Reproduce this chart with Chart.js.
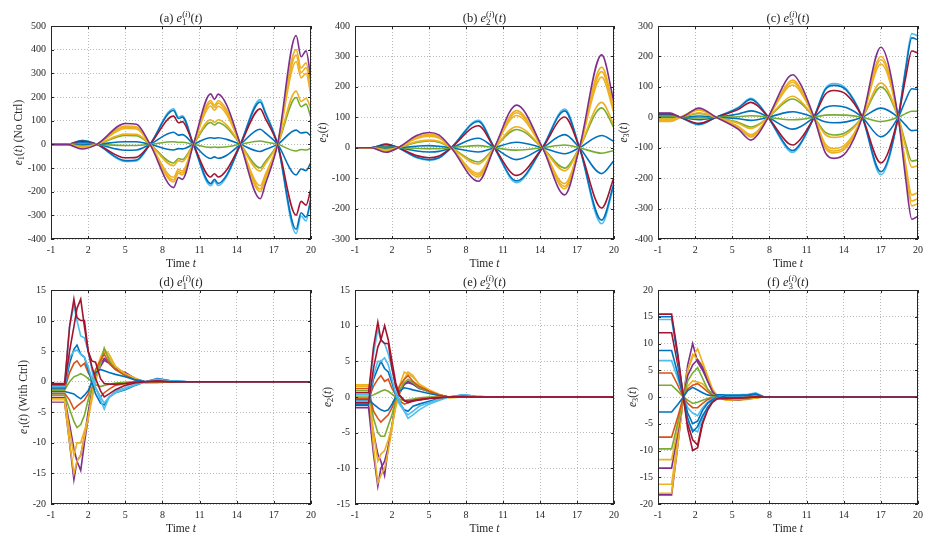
<!DOCTYPE html>
<html>
<head>
<meta charset="utf-8">
<script src="https://cdn.jsdelivr.net/npm/chart.js@4.4.1/dist/chart.umd.min.js"></script>
<style>
  html, body { margin: 0; padding: 0; background: #fff; }
  #wrap { position: relative; width: 941px; height: 547px; }
  #wrap canvas { position: absolute; left: 0; top: 0; }
</style>
</head>
<body>
<div id="wrap">
  <canvas id="pa" width="941" height="547"></canvas>
  <canvas id="pb" width="941" height="547"></canvas>
  <canvas id="pc" width="941" height="547"></canvas>
  <canvas id="pd" width="941" height="547"></canvas>
  <canvas id="pe" width="941" height="547"></canvas>
  <canvas id="pf" width="941" height="547"></canvas>
</div>
<script>
// MATLAB default line colours
const BLUE = '#0072BD', ORANGE = '#D95319', YELLOW = '#EDB120', PURPLE = '#7E2F8E',
      GREEN = '#77AC30', LBLUE = '#4DBEEE', RED = '#A2142F';

const xTicks = [-1, 2, 5, 8, 11, 14, 17, 20];
const yTicksA = [-400, -300, -200, -100, 0, 100, 200, 300, 400, 500];
const yTicksB = [-300, -200, -100, 0, 100, 200, 300, 400];
const yTicksC = [-400, -300, -200, -100, 0, 100, 200, 300];
const yTicksD = [-20, -15, -10, -5, 0, 5, 10, 15];
const yTicksE = [-15, -10, -5, 0, 5, 10, 15];
const yTicksF = [-20, -15, -10, -5, 0, 5, 10, 15, 20];

const colorsTop = [PURPLE, YELLOW, YELLOW, YELLOW, YELLOW, GREEN, BLUE, GREEN, BLUE, RED, BLUE, LBLUE];
const colorsBottom = [RED, RED, LBLUE, LBLUE, BLUE, ORANGE, GREEN, BLUE, ORANGE, GREEN, YELLOW, YELLOW, PURPLE, PURPLE];
const colorsF = [RED, BLUE, LBLUE, RED, BLUE, LBLUE, ORANGE, GREEN, BLUE, ORANGE, GREEN, YELLOW, PURPLE, YELLOW, YELLOW, PURPLE];

// (a) e1, no control
const timeA = [-1, 0.3, 1.5, 2.7, 5, 5.9, 7, 8.9, 9.3, 9.6, 10.5, 11.9, 12.2, 12.5, 13.2, 14.3, 15.9, 16.3, 17.3, 18.8, 19.2, 19.6, 20];
const valuesA = [
  [0, 0, -20, 0, 88, 85, 0, -183, -140, -148, 0, 213, 190, 212, 165, 0, -230, -170, 0, 460, 370, 395, 270],
  [0, 0, -17, 0, 77, 74, 0, -159, -122, -129, 0, 185, 165, 184, 144, 0, -200, -148, 0, 400, 322, 344, 235],
  [0, 0, -16, 0, 72, 70, 0, -150, -115, -121, 0, 175, 156, 174, 135, 0, -189, -139, 0, 377, 303, 324, 221],
  [0, 0, -15, 0, 67, 65, 0, -139, -106, -112, 0, 162, 144, 161, 125, 0, -175, -129, 0, 350, 281, 300, 205],
  [0, 0, -10, 0, 43, 42, 0, -90, -69, -73, 0, 104, 93, 104, 81, 0, -113, -83, 0, 225, 181, 194, 150],
  [0, 0, -9, 0, 38, 37, 0, -79, -60, -64, 0, 92, 82, 91, 71, 0, -99, -73, 0, 198, 159, 170, 112],
  [0, 0, -3, 0, 11, 11, 0, -24, -18, -19, 0, 28, 25, 28, 21, 0, -30, -22, 0, 60, 48, 51, 35],
  [0, 0, 1, 0, -5, -5, 0, 11, 8, 9, 0, -13, -11, -13, -10, 0, 14, 10, 0, -28, -22, -24, -16],
  [0, 0, 6, 0, -25, -24, 0, 51, 39, 41, 0, -60, -53, -59, -46, 0, 64, 48, 0, -129, -104, -111, -76],
  [0, 0, 13, 0, -57, -55, 0, 119, 91, 96, 0, -138, -124, -138, -107, 0, 150, 111, 0, -299, -241, -257, -186],
  [0, 0, 16, 0, -69, -66, 0, 143, 109, 115, 0, -166, -148, -165, -129, 0, 179, 133, 0, -359, -289, -308, -231],
  [0, 0, 16, 0, -72, -70, 0, 150, 115, 121, 0, -175, -156, -174, -135, 0, 189, 139, 0, -377, -303, -324, -221]
];

// (b) e2, no control
const timeB = [-1, 0.3, 1.5, 2.5, 4, 5, 5.8, 6.8, 9, 10.3, 12.1, 14.2, 16, 17.2, 19, 20];
const valuesB = [
  [0, 0, -15, 0, 40, 50, 42, 0, -110, 0, 140, 0, -155, 0, 305, 150],
  [0, 0, -13, 0, 35, 44, 37, 0, -96, 0, 122, 0, -135, 0, 265, 131],
  [0, 0, -12, 0, 33, 41, 34, 0, -90, 0, 115, 0, -127, 0, 250, 123],
  [0, 0, -11, 0, 30, 38, 32, 0, -84, 0, 106, 0, -118, 0, 232, 114],
  [0, 0, -7, 0, 20, 25, 21, 0, -54, 0, 69, 0, -76, 0, 149, 74],
  [0, 0, -6, 0, 17, 22, 18, 0, -47, 0, 60, 0, -67, 0, 131, 65],
  [0, 0, -2, 0, 5, 7, 5, 0, -14, 0, 18, 0, -20, 0, 40, 20],
  [0, 0, 1, 0, -2, -3, -3, 0, 7, 0, -8, 0, 9, 0, -18, -9],
  [0, 0, 4, 0, -11, -14, -12, 0, 31, 0, -39, 0, 43, 0, -85, -42],
  [0, 0, 10, 0, -26, -33, -27, 0, 72, 0, -91, 0, 101, 0, -198, -98],
  [0, 0, 12, 0, -31, -39, -33, 0, 86, 0, -109, 0, 121, 0, -238, -117],
  [0, 0, 12, 0, -33, -41, -34, 0, 90, 0, -115, 0, 127, 0, -250, -123]
];

// (c) e3, no control
const timeC = [-1, 0, 0.8, 2.3, 3.7, 5.5, 6.5, 7.0, 7.9, 9.5, 9.9, 10.5, 11.6, 12.5, 13.2, 14.2, 15.5, 17, 18.4, 19.0, 19.5, 20];
const valuesC = [
  [14, 14, 0, 30, 0, -40, -75, -60, 0, 130, 140, 110, 0, -115, -135, -115, 0, 230, 0, -200, -335, -325],
  [-14, -14, 0, 26, 0, -35, -65, -52, 0, 113, 122, 96, 0, -100, -117, -100, 0, 200, 0, -174, -291, -283],
  [-12, -12, 0, 25, 0, -33, -62, -49, 0, 107, 115, 90, 0, -94, -111, -94, 0, 189, 0, -164, -275, -267],
  [-10, -10, 0, 23, 0, -30, -57, -46, 0, 99, 106, 84, 0, -87, -103, -87, 0, 175, 0, -152, -255, -247],
  [-6, -6, 0, 15, 0, -20, -37, -29, 0, 64, 69, 54, 0, -56, -66, -56, 0, 113, 0, -98, -164, -159],
  [4, 4, 0, 13, 0, -17, -32, -26, 0, 56, 60, 47, 0, -49, -58, -49, 0, 99, 0, -86, -144, -140],
  [2, 2, 0, 4, 0, -5, -10, -8, 0, 17, 18, 14, 0, -15, -18, -15, 0, 30, 0, -26, -44, -42],
  [-2, -2, 0, -2, 0, 2, 5, 4, 0, -8, -8, -7, 0, 7, 8, 7, 0, -14, 0, 12, 20, 20],
  [6, 6, 0, -8, 0, 11, 21, 17, 0, -36, -39, -31, 0, 32, 38, 32, 0, -64, 0, 56, 94, 91],
  [12, 12, 0, -20, 0, 26, 49, 39, 0, -85, -91, -72, 0, 75, 88, 75, 0, -150, 0, 130, 218, 211],
  [9, 9, 0, -23, 0, 31, 59, 47, 0, -101, -109, -86, 0, 90, 105, 90, 0, -179, 0, 156, 261, 254],
  [11, 11, 0, -25, 0, 33, 62, 49, 0, -107, -115, -90, 0, 94, 111, 94, 0, -189, 0, 164, 275, 267]
];

// (d) e1, with control
const timeD = [-1, 0.1, 0.5, 0.85, 1.1, 1.4, 1.7, 2.0, 2.3, 2.6, 3.0, 3.3, 3.7, 4.2, 5.0, 5.8, 6.6, 7.6, 8.6, 10, 20];
const valuesD = [
  [-0.3, -0.3, 9, 13.5, 10.5, 10, 10, 5, 3.4, 3.2, 0.5, -0.3, -0.4, -0.4, -0.3, -0.1, 0, 0.1, 0, 0, 0],
  [-0.5, -0.5, 5, 9, 12, 13.5, 9, 5, 2.5, 0.5, -1.5, -2.5, -2, -1.3, -0.6, -0.2, 0, 0.1, 0, 0, 0],
  [-0.6, -0.6, 9, 12.5, 10, 7.5, 7.2, 5, 2, -1, -3, -4.5, -2.5, -1.8, -1.2, -0.5, 0, 0.4, 0.1, 0, 0],
  [-0.8, -0.8, 4, 5, 5.2, 4.5, 4, 2.5, 0.5, -1, -2.5, -3.5, -2.5, -1.5, -1, -0.5, 0, 0.3, 0.1, 0, 0],
  [-1.0, -1.0, 3, 5.3, 6, 4.5, 4, 2, 0, -2, -3.5, -3.8, -2.5, -1.8, -1.3, -0.6, 0, 0.5, 0.2, 0, 0],
  [-1.2, -1.2, 1.5, 3, 3.4, 2.5, 3, 1.5, 0.5, -1, -2.5, -1.8, -1.2, -0.6, -0.3, 0, 0, 0.1, 0, 0, 0],
  [-1.4, -1.4, 0, 0.8, 1, 1.3, 1, 0.5, 0, -0.5, -0.8, -0.6, -0.4, -0.2, -0.1, 0, 0, 0, 0, 0, 0],
  [-1.6, -1.6, -1.8, -2, -2.4, -2.8, -2.2, -1.5, 0, 1.5, 2, 1.8, 1.5, 1.2, 0.8, 0.3, 0, 0.3, 0.1, 0, 0],
  [-1.9, -1.9, -3, -4.5, -4, -3.5, -3, -2, 0, 2, 3.5, 4.5, 3, 2, 1, 0.3, 0, 0, 0, 0, 0],
  [-2.2, -2.2, -4.5, -6.5, -7.5, -7, -5.5, -3, -1, 1, 3, 5.5, 3.5, 2, 1, 0.3, 0, 0, 0, 0, 0],
  [-2.8, -2.8, -8, -12, -10, -10, -8, -6, -3, 0, 3, 5, 4, 2.5, 1.2, 0.5, -0.2, -0.2, 0, 0, 0],
  [-3.2, -3.2, -10, -15, -13, -12, -9, -6, -2, 1.5, 4, 5.3, 4.5, 2.5, 1.3, 0.6, -0.2, -0.1, 0, 0, 0],
  [-3.3, -3.3, -10, -16, -13, -12, -9, -5, -1.5, 1, 2.5, 3.5, 3, 2, 1.5, 0.5, 0, 0, 0, 0, 0],
  [-2.6, -2.6, -7, -11, -13, -14.5, -10, -6, -2, 1, 3, 3.8, 3.2, 2.2, 1.4, 0.5, 0, 0, 0, 0, 0]
];

// (e) e2, with control
const timeE = [-1, 0.1, 0.5, 0.85, 1.1, 1.4, 1.7, 2.0, 2.3, 2.6, 3.0, 3.3, 3.7, 4.2, 5.0, 5.8, 6.6, 7.8, 8.8, 10, 20];
const valuesE = [
  [0.6, 0.6, 7, 10.5, 8, 7.5, 7.5, 4, 1.5, 0.2, -0.5, -0.6, -0.5, -0.4, -0.2, -0.1, 0, 0.1, 0, 0, 0],
  [-0.8, -0.8, 4, 7, 8, 10, 8, 5, 2, 0.3, -0.5, -0.8, -0.6, -0.4, -0.2, -0.1, 0, 0, 0, 0, 0],
  [0.3, 0.3, 6, 9.5, 8, 7.5, 6, 4, 1.5, -0.5, -2, -3, -2.5, -1.8, -1, -0.5, 0, 0.3, 0.1, 0, 0],
  [-0.6, -0.6, 3, 5, 5, 5.5, 4.5, 2.5, 0.5, -1, -2, -2.5, -2, -1.3, -0.8, -0.3, 0, 0.2, 0, 0, 0],
  [-1.0, -1.0, 2.5, 4, 5, 4, 3.5, 2, 0.3, -0.8, -1.8, -2, -1.3, -1, -0.6, -0.2, 0, 0.3, 0.1, 0, 0],
  [-0.2, -0.2, 1.5, 2.5, 3, 2.2, 2.5, 1.2, 0.3, -0.5, -1, -0.8, -0.5, -0.3, -0.1, 0, 0, 0, 0, 0, 0],
  [0, 0, 0.3, 0.6, 0.8, 1, 0.8, 0.4, 0, -0.3, -0.5, -0.4, -0.3, -0.1, 0, 0, 0, 0, 0, 0, 0],
  [-0.4, -0.4, -1, -1.5, -1.8, -2, -1.8, -1, 0, 0.8, 1.3, 1.2, 1, 0.8, 0.5, 0.2, 0, 0.2, 0, 0, 0],
  [1.2, 1.2, -2, -3, -3.5, -3, -2.5, -1.5, 0, 1.5, 2.5, 3, 2.2, 1.5, 0.8, 0.3, 0, 0, 0, 0, 0],
  [0.9, 0.9, -3, -5, -5.5, -5.5, -4, -2.5, -0.5, 1, 2, 2.5, 2, 1.3, 0.7, 0.2, 0, 0, 0, 0, 0],
  [1.5, 1.5, -5, -9, -8, -7.5, -6, -4, -1.5, 0.5, 2.5, 3.5, 3, 1.8, 1, 0.4, -0.1, 0, 0, 0, 0],
  [1.7, 1.7, -7, -12, -11, -10, -7.5, -4.5, -1, 1.5, 3.5, 3.2, 2.8, 1.8, 1, 0.4, -0.1, 0, 0, 0, 0],
  [-1.5, -1.5, -8, -12.5, -10, -9, -7, -4, -1, 0.5, 1.8, 2, 1.8, 1.3, 0.8, 0.3, 0, 0, 0, 0, 0],
  [-1.2, -1.2, -5, -8, -9, -11, -7, -4, -1, 0.5, 1.8, 2.2, 1.8, 1.2, 0.8, 0.3, 0, 0, 0, 0, 0]
];

// (f) e3, with control
const timeF = [-1, 0.1, 0.6, 1.05, 1.4, 1.8, 2.2, 2.6, 3.0, 3.4, 3.8, 4.5, 5.5, 6.3, 6.9, 7.5, 8.5, 10, 20];
const valuesF = [
  [15.5, 15.5, 8, 0, -6, -10, -9.5, -5, -2.5, -1, -0.3, -0.2, -0.2, -0.1, 0, 0, 0, 0, 0],
  [15, 15, 7.5, 0, -4, -6.5, -5.5, -3.5, -2, -0.8, -0.3, 0.3, 0.3, 0.4, 0.6, 0.1, 0, 0, 0],
  [14.5, 14.5, 7.2, 0, -4.5, -6, -6.5, -4, -2, -0.8, -0.2, 0.4, 0.4, 0.5, 0.8, 0.1, 0, 0, 0],
  [12, 12, 6, 0, -5, -8, -9, -4.5, -2, -0.8, -0.3, -0.3, -0.2, -0.1, 0, 0, 0, 0, 0],
  [8.7, 8.7, 4.3, 0, -3, -5, -4.5, -2.5, -1.2, -0.5, 0, 0.3, 0.3, 0.3, 0.5, 0, 0, 0, 0],
  [6.8, 6.8, 3.4, 0, -2, -3, -3.5, -2, -1, -0.3, 0, 0.2, 0.2, 0.3, 0.4, 0, 0, 0, 0],
  [4.5, 4.5, 2.2, 0, -1.2, -2, -2, -1.2, -0.5, -0.2, 0, 0, 0, 0, 0, 0, 0, 0, 0],
  [2.2, 2.2, 1.1, 0, -0.6, -1.2, -1, -0.6, -0.3, 0, 0, 0, 0, 0, 0, 0, 0, 0, 0],
  [-2.8, -2.8, -1.4, 0, 1.2, 1.8, 1.3, 0.8, 0.4, 0.2, 0.4, 0.4, 0.3, 0.2, 0.2, 0, 0, 0, 0],
  [-7.5, -7.5, -3.7, 0, 1.5, 2.2, 2.5, 1.8, 1, 0.3, 0, -0.2, -0.2, -0.1, 0, 0, 0, 0, 0],
  [-9.7, -9.7, -4.8, 0, 3, 4.5, 5.5, 3.5, 1.5, 0.5, 0, -0.3, -0.3, -0.2, 0, 0, 0, 0, 0],
  [-11.7, -11.7, -5.8, 0, 2, 3, 2.8, 2.5, 1.5, 0.5, 0, -0.5, -0.4, -0.3, -0.2, 0, 0, 0, 0],
  [-13.3, -13.3, -6.6, 0, 4, 6, 7, 5.5, 3, 1, 0, -0.4, -0.5, -0.3, -0.1, 0, 0, 0, 0],
  [-16.3, -16.3, -8, 0, 5, 8, 7, 6, 3.5, 1.2, 0, -0.6, -0.5, -0.4, -0.2, 0, 0, 0, 0],
  [-18, -18, -9, 0, 5, 7.5, 9, 6.5, 4, 1.5, 0.2, -0.6, -0.6, -0.4, -0.2, 0, 0, 0, 0],
  [-18.3, -18.3, -9, 0, 6, 10, 6.5, 5, 3, 1, 0, -0.5, -0.5, -0.3, -0.1, 0, 0, 0, 0]
];

const SERIF = "'Liberation Serif', 'DejaVu Serif', serif";
const INK = '#262626';

// little rich-text tokens for the LaTeX-ish labels
const tTok = [{ t: '(' }, { t: 't', i: 1 }, { t: ')' }];
function eTok(n, sup) {
  const toks = [{ t: 'e', i: 1 }, { t: String(n), s: 0.72, dy: 2.5, keep: sup ? 1 : 0 }];
  if (sup) toks.push({ t: '(', s: 0.72, dy: -5 }, { t: 'i', i: 1, s: 0.72, dy: -5 }, { t: ')', s: 0.72, dy: -5 });
  return toks;
}
const xLabel = [{ t: 'Time ' }, { t: 't', i: 1 }];

function fontOf(tk, base) {
  return (tk.i ? 'italic ' : '') + (base * (tk.s || 1)).toFixed(1) + 'px ' + SERIF;
}

function drawRich(ctx, toks, base, cx, by) {
  let w = 0;
  const pos = [];
  toks.forEach(tk => {
    ctx.font = fontOf(tk, base);
    pos.push(w);
    if (!tk.keep) w += ctx.measureText(tk.t).width;
  });
  const x0 = cx - w / 2;
  toks.forEach((tk, k) => {
    ctx.font = fontOf(tk, base);
    ctx.fillText(tk.t, x0 + pos[k], by + (tk.dy || 0) * base / 12);
  });
}

function decoPlugin(title, ylabel, yOff) {
  return {
    id: 'deco',
    afterDraw(chart) {
      const { ctx, chartArea: a } = chart;
      const xs = chart.scales.x, ys = chart.scales.y;
      ctx.save();
      ctx.strokeStyle = INK;
      ctx.lineWidth = 1;
      ctx.strokeRect(a.left + 0.5, a.top + 0.5, a.right - a.left - 1, a.bottom - a.top - 1);
      ctx.beginPath();
      xs.ticks.forEach(t => {
        const px = Math.round(xs.getPixelForValue(t.value)) + 0.5;
        ctx.moveTo(px, a.bottom); ctx.lineTo(px, a.bottom - 3);
        ctx.moveTo(px, a.top); ctx.lineTo(px, a.top + 3);
      });
      ys.ticks.forEach(t => {
        const py = Math.round(ys.getPixelForValue(t.value)) + 0.5;
        ctx.moveTo(a.left, py); ctx.lineTo(a.left + 3, py);
        ctx.moveTo(a.right, py); ctx.lineTo(a.right - 3, py);
      });
      ctx.stroke();

      ctx.fillStyle = INK;
      ctx.textAlign = 'left';
      ctx.textBaseline = 'alphabetic';
      const cx = (a.left + a.right) / 2;
      drawRich(ctx, title, 12.5, cx, a.top - 4);
      drawRich(ctx, xLabel, 11.5, cx, a.bottom + 28);
      ctx.translate(a.left - yOff + 4, (a.top + a.bottom) / 2);
      ctx.rotate(-Math.PI / 2);
      drawRich(ctx, ylabel, 11.5, 0, 0);
      ctx.restore();
    }
  };
}

function makeSets(times, series, colors, smooth) {
  return series.map((vals, k) => ({
    data: vals.map((v, i) => ({ x: times[i], y: v })),
    borderColor: colors[k],
    backgroundColor: colors[k],
    borderWidth: 1.6,
    pointRadius: 0,
    fill: false,
    tension: 0,
    cubicInterpolationMode: smooth ? 'monotone' : 'default'
  }));
}

const Y_W = 45, X_H = 20;

function panel(id, box, yTicks, times, series, colors, smooth, title, ylabel, yOff) {
  const [L, T, R, B] = box;
  const tickFont = { family: SERIF, size: 10 };
  new Chart(document.getElementById(id), {
    type: 'line',
    data: { datasets: makeSets(times, series, colors, smooth) },
    options: {
      responsive: false,
      animation: false,
      layout: { padding: { left: L - Y_W, top: T, right: 941 - R, bottom: 547 - B - X_H } },
      plugins: { legend: { display: false }, tooltip: { enabled: false }, title: { display: false } },
      scales: {
        x: {
          type: 'linear',
          min: xTicks[0],
          max: xTicks[xTicks.length - 1],
          afterBuildTicks: s => { s.ticks = xTicks.map(v => ({ value: v })); },
          afterFit: s => { s.height = X_H; s.paddingLeft = 0; s.paddingRight = 0; },
          ticks: { autoSkip: false, maxRotation: 0, padding: 5, color: INK, font: tickFont },
          grid: { color: 'rgba(0,0,0,0.28)', drawTicks: false, lineWidth: 1 },
          border: { display: false, dash: [1, 2] }
        },
        y: {
          type: 'linear',
          min: yTicks[0],
          max: yTicks[yTicks.length - 1],
          afterBuildTicks: s => { s.ticks = yTicks.map(v => ({ value: v })); },
          afterFit: s => { s.width = Y_W; s.paddingTop = 0; s.paddingBottom = 0; },
          ticks: { autoSkip: false, padding: 5, color: INK, font: tickFont },
          grid: { color: 'rgba(0,0,0,0.28)', drawTicks: false, lineWidth: 1 },
          border: { display: false, dash: [1, 2] }
        }
      }
    },
    plugins: [decoPlugin(title, ylabel, yOff)]
  });
}

const t1 = [{ t: '(a) ' }, ...eTok(1, true), ...tTok];
const t2 = [{ t: '(b) ' }, ...eTok(2, true), ...tTok];
const t3 = [{ t: '(c) ' }, ...eTok(3, true), ...tTok];
const t4 = [{ t: '(d) ' }, ...eTok(1, true), ...tTok];
const t5 = [{ t: '(e) ' }, ...eTok(2, true), ...tTok];
const t6 = [{ t: '(f) ' }, ...eTok(3, true), ...tTok];

panel('pa', [51, 26, 311, 239], yTicksA, timeA, valuesA, colorsTop, true, t1, [...eTok(1), ...tTok, { t: ' (No Ctrl)' }], 33);
panel('pb', [355, 26, 614, 239], yTicksB, timeB, valuesB, colorsTop, true, t2, [...eTok(2), ...tTok], 33);
panel('pc', [658, 26, 918, 239], yTicksC, timeC, valuesC, colorsTop, true, t3, [...eTok(3), ...tTok], 35);
panel('pd', [51, 290, 311, 504], yTicksD, timeD, valuesD, colorsBottom, false, t4, [...eTok(1), ...tTok, { t: ' (With Ctrl)' }], 28);
panel('pe', [355, 290, 614, 504], yTicksE, timeE, valuesE, colorsBottom, false, t5, [...eTok(2), ...tTok], 28);
panel('pf', [658, 290, 918, 504], yTicksF, timeF, valuesF, colorsF, false, t6, [...eTok(3), ...tTok], 26);
</script>
</body>
</html>
